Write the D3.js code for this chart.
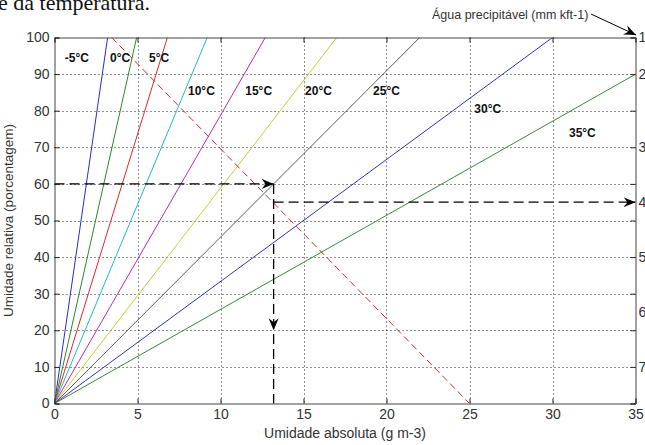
<!DOCTYPE html>
<html>
<head>
<meta charset="utf-8">
<script src="https://cdn.jsdelivr.net/npm/d3@7"></script>
<style>
  body { margin: 0; background: #fff; }
  svg { display: block; font-family: "Liberation Sans", Arial, sans-serif; }
</style>
</head>
<body>
<div id="vis"></div>
<script>
const WIDTH = 645;
const HEIGHT = 445;

// temperaturas e umidade absoluta de saturação (g m-3)
const TEMPERATURAS = ["-5°C", "0°C", "5°C", "10°C", "15°C", "20°C", "25°C", "30°C", "35°C"];
const SATURACAO = [3.2, 4.95, 6.8, 9.2, 12.7, 17.0, 22.0, 30.0, 38.9];
const CORES = ["#2b2bcc", "#2a8a2a", "#e02828", "#22bcbc", "#b82cb8", "#caca3a", "#5a5a5a", "#3535b8", "#3a8a3a"];
// posição dos rótulos (unidades dos eixos)
const ROTULO_X = [1.35, 3.95, 6.3, 8.85, 12.3, 15.9, 20.0, 26.1, 31.8];
const ROTULO_Y = [94.5, 94.5, 94.5, 85.5, 85.5, 85.5, 85.5, 80.5, 74.0];

// linha tracejada vermelha
const LINHA_VERMELHA = [[3.45, 100], [25, 0]];
// setas tracejadas pretas
const SETA_H1 = [[0, 60], [13.2, 60]];
const SETA_V = [[13.2, 60], [13.2, 0]];
const PONTA_V = [13.2, 20];
const SETA_H2 = [[13.2, 55], [35, 55]];

const TICKS_X = [0, 5, 10, 15, 20, 25, 30, 35];
const TICKS_Y = [0, 10, 20, 30, 40, 50, 60, 70, 80, 90, 100];
const ROTULOS_DIREITA = ["1", "2", "3", "4", "5", "6", "7"];
const ROTULOS_DIREITA_EM = [100, 90, 70, 55, 40, 25, 10];

const SVG = d3.select("#vis").append("svg").attr("width", WIDTH).attr("height", HEIGHT);

const x = d3.scaleLinear().domain([0, 35]).range([54.5, 635.5]);
const y = d3.scaleLinear().domain([0, 100]).range([403.5, 37.5]);

// texto cortado no topo
SVG.append("text")
  .attr("x", -2).attr("y", 10)
  .attr("font-family", "Liberation Serif, Times New Roman, serif")
  .attr("font-size", 22)
  .attr("fill", "#111")
  .text("e da temperatura.");

SVG.append("defs").append("clipPath").attr("id", "area")
  .append("rect")
  .attr("x", x(0)).attr("y", y(100))
  .attr("width", x(35) - x(0)).attr("height", y(0) - y(100));

// grade pontilhada
const grade = SVG.append("g").attr("stroke", "#222").attr("stroke-dasharray", "1,3").attr("stroke-width", 1);
grade.selectAll(".gx").data(TICKS_X.slice(1, -1)).join("line")
  .attr("x1", d => Math.round(x(d)) + 0.5).attr("x2", d => Math.round(x(d)) + 0.5)
  .attr("y1", y(100)).attr("y2", y(0));
grade.selectAll(".gy").data(TICKS_Y.slice(1, -1)).join("line")
  .attr("x1", x(0)).attr("x2", x(35))
  .attr("y1", d => Math.round(y(d)) + 0.5).attr("y2", d => Math.round(y(d)) + 0.5);

const plot = SVG.append("g").attr("clip-path", "url(#area)");

// linhas de temperatura
const linha = d3.line().x(d => x(d[0])).y(d => y(d[1]));
plot.selectAll(".temp").data(SATURACAO).join("path")
  .attr("d", d => linha([[0, 0], [d, 100]]))
  .attr("fill", "none")
  .attr("stroke", (d, i) => CORES[i])
  .attr("stroke-width", 1);

plot.append("path")
  .attr("d", linha(LINHA_VERMELHA))
  .attr("fill", "none")
  .attr("stroke", "#d8262a")
  .attr("stroke-width", 1)
  .attr("stroke-dasharray", "7,4");

// pontas de seta
const defs = SVG.select("defs");
defs.append("marker")
  .attr("id", "ponta")
  .attr("viewBox", "-12 -6 13 12")
  .attr("refX", 0).attr("refY", 0)
  .attr("markerWidth", 13).attr("markerHeight", 12)
  .attr("markerUnits", "userSpaceOnUse")
  .attr("orient", "auto")
  .append("path")
  .attr("d", "M0,0 L-12,-5 L-8,0 L-12,5 Z")
  .attr("fill", "#000");

const setas = SVG.append("g")
  .attr("fill", "none").attr("stroke", "#000")
  .attr("stroke-width", 1.3).attr("stroke-dasharray", "10,5");

setas.append("path").attr("d", linha(SETA_H1)).attr("marker-end", "url(#ponta)");
setas.append("path").attr("d", linha(SETA_V));
setas.append("path").attr("d", linha(SETA_H2)).attr("marker-end", "url(#ponta)");

// ponta no meio da linha vertical
SVG.append("path")
  .attr("d", "M0,0 L-12,-5 L-8,0 L-12,5 Z")
  .attr("fill", "#000")
  .attr("transform", `translate(${x(PONTA_V[0])},${y(PONTA_V[1])}) rotate(90)`);

// rótulos das temperaturas
SVG.append("g").selectAll("text").data(TEMPERATURAS).join("text")
  .attr("x", (d, i) => x(ROTULO_X[i]))
  .attr("y", (d, i) => y(ROTULO_Y[i]))
  .attr("dy", "0.35em")
  .attr("text-anchor", "middle")
  .attr("font-size", 12)
  .attr("font-weight", "bold")
  .attr("fill", "#111")
  .text(d => d);

// eixos
const eixos = SVG.append("g");
const ax = eixos.append("g")
  .attr("transform", `translate(0,${y(0)})`)
  .call(d3.axisBottom(x).tickValues(TICKS_X).tickSize(-5).tickPadding(6));
const axTop = eixos.append("g")
  .attr("transform", `translate(0,${y(100)})`)
  .call(d3.axisTop(x).tickValues(TICKS_X).tickSize(-5).tickFormat(""));
const ay = eixos.append("g")
  .attr("transform", `translate(${x(0)},0)`)
  .call(d3.axisLeft(y).tickValues(TICKS_Y).tickSize(-5).tickPadding(5));
const ayR = eixos.append("g")
  .attr("transform", `translate(${x(35)},0)`)
  .call(d3.axisRight(y).tickValues(TICKS_Y).tickSize(-5).tickFormat(""));

eixos.selectAll(".domain").attr("stroke", "#444");
eixos.selectAll(".tick line").attr("stroke", "#222");
eixos.selectAll(".tick text")
  .attr("fill", "#333")
  .attr("font-size", 14)
  .attr("font-family", "Liberation Sans, Arial, sans-serif");

// rótulos do eixo direito (água precipitável)
SVG.append("g").selectAll("text").data(ROTULOS_DIREITA).join("text")
  .attr("x", x(35) + 3)
  .attr("y", (d, i) => y(ROTULOS_DIREITA_EM[i]))
  .attr("dy", "0.35em")
  .attr("font-size", 14)
  .attr("fill", "#333")
  .text(d => d);

// títulos dos eixos
SVG.append("text")
  .attr("x", (x(0) + x(35)) / 2).attr("y", 438)
  .attr("text-anchor", "middle")
  .attr("font-size", 14)
  .attr("fill", "#333")
  .text("Umidade absoluta (g m-3)");

SVG.append("text")
  .attr("transform", `translate(13,${(y(0) + y(100)) / 2}) rotate(-90)`)
  .attr("text-anchor", "middle")
  .attr("font-size", 13.5)
  .attr("fill", "#333")
  .text("Umidade relativa (porcentagem)");

SVG.append("text")
  .attr("x", 432).attr("y", 19)
  .attr("font-size", 12.5)
  .attr("fill", "#333")
  .text("Água precipitável (mm kft-1)");

SVG.append("line")
  .attr("x1", 591).attr("y1", 14)
  .attr("x2", 636).attr("y2", 35)
  .attr("stroke", "#000").attr("stroke-width", 1)
  .attr("marker-end", "url(#ponta)");
</script>
</body>
</html>
